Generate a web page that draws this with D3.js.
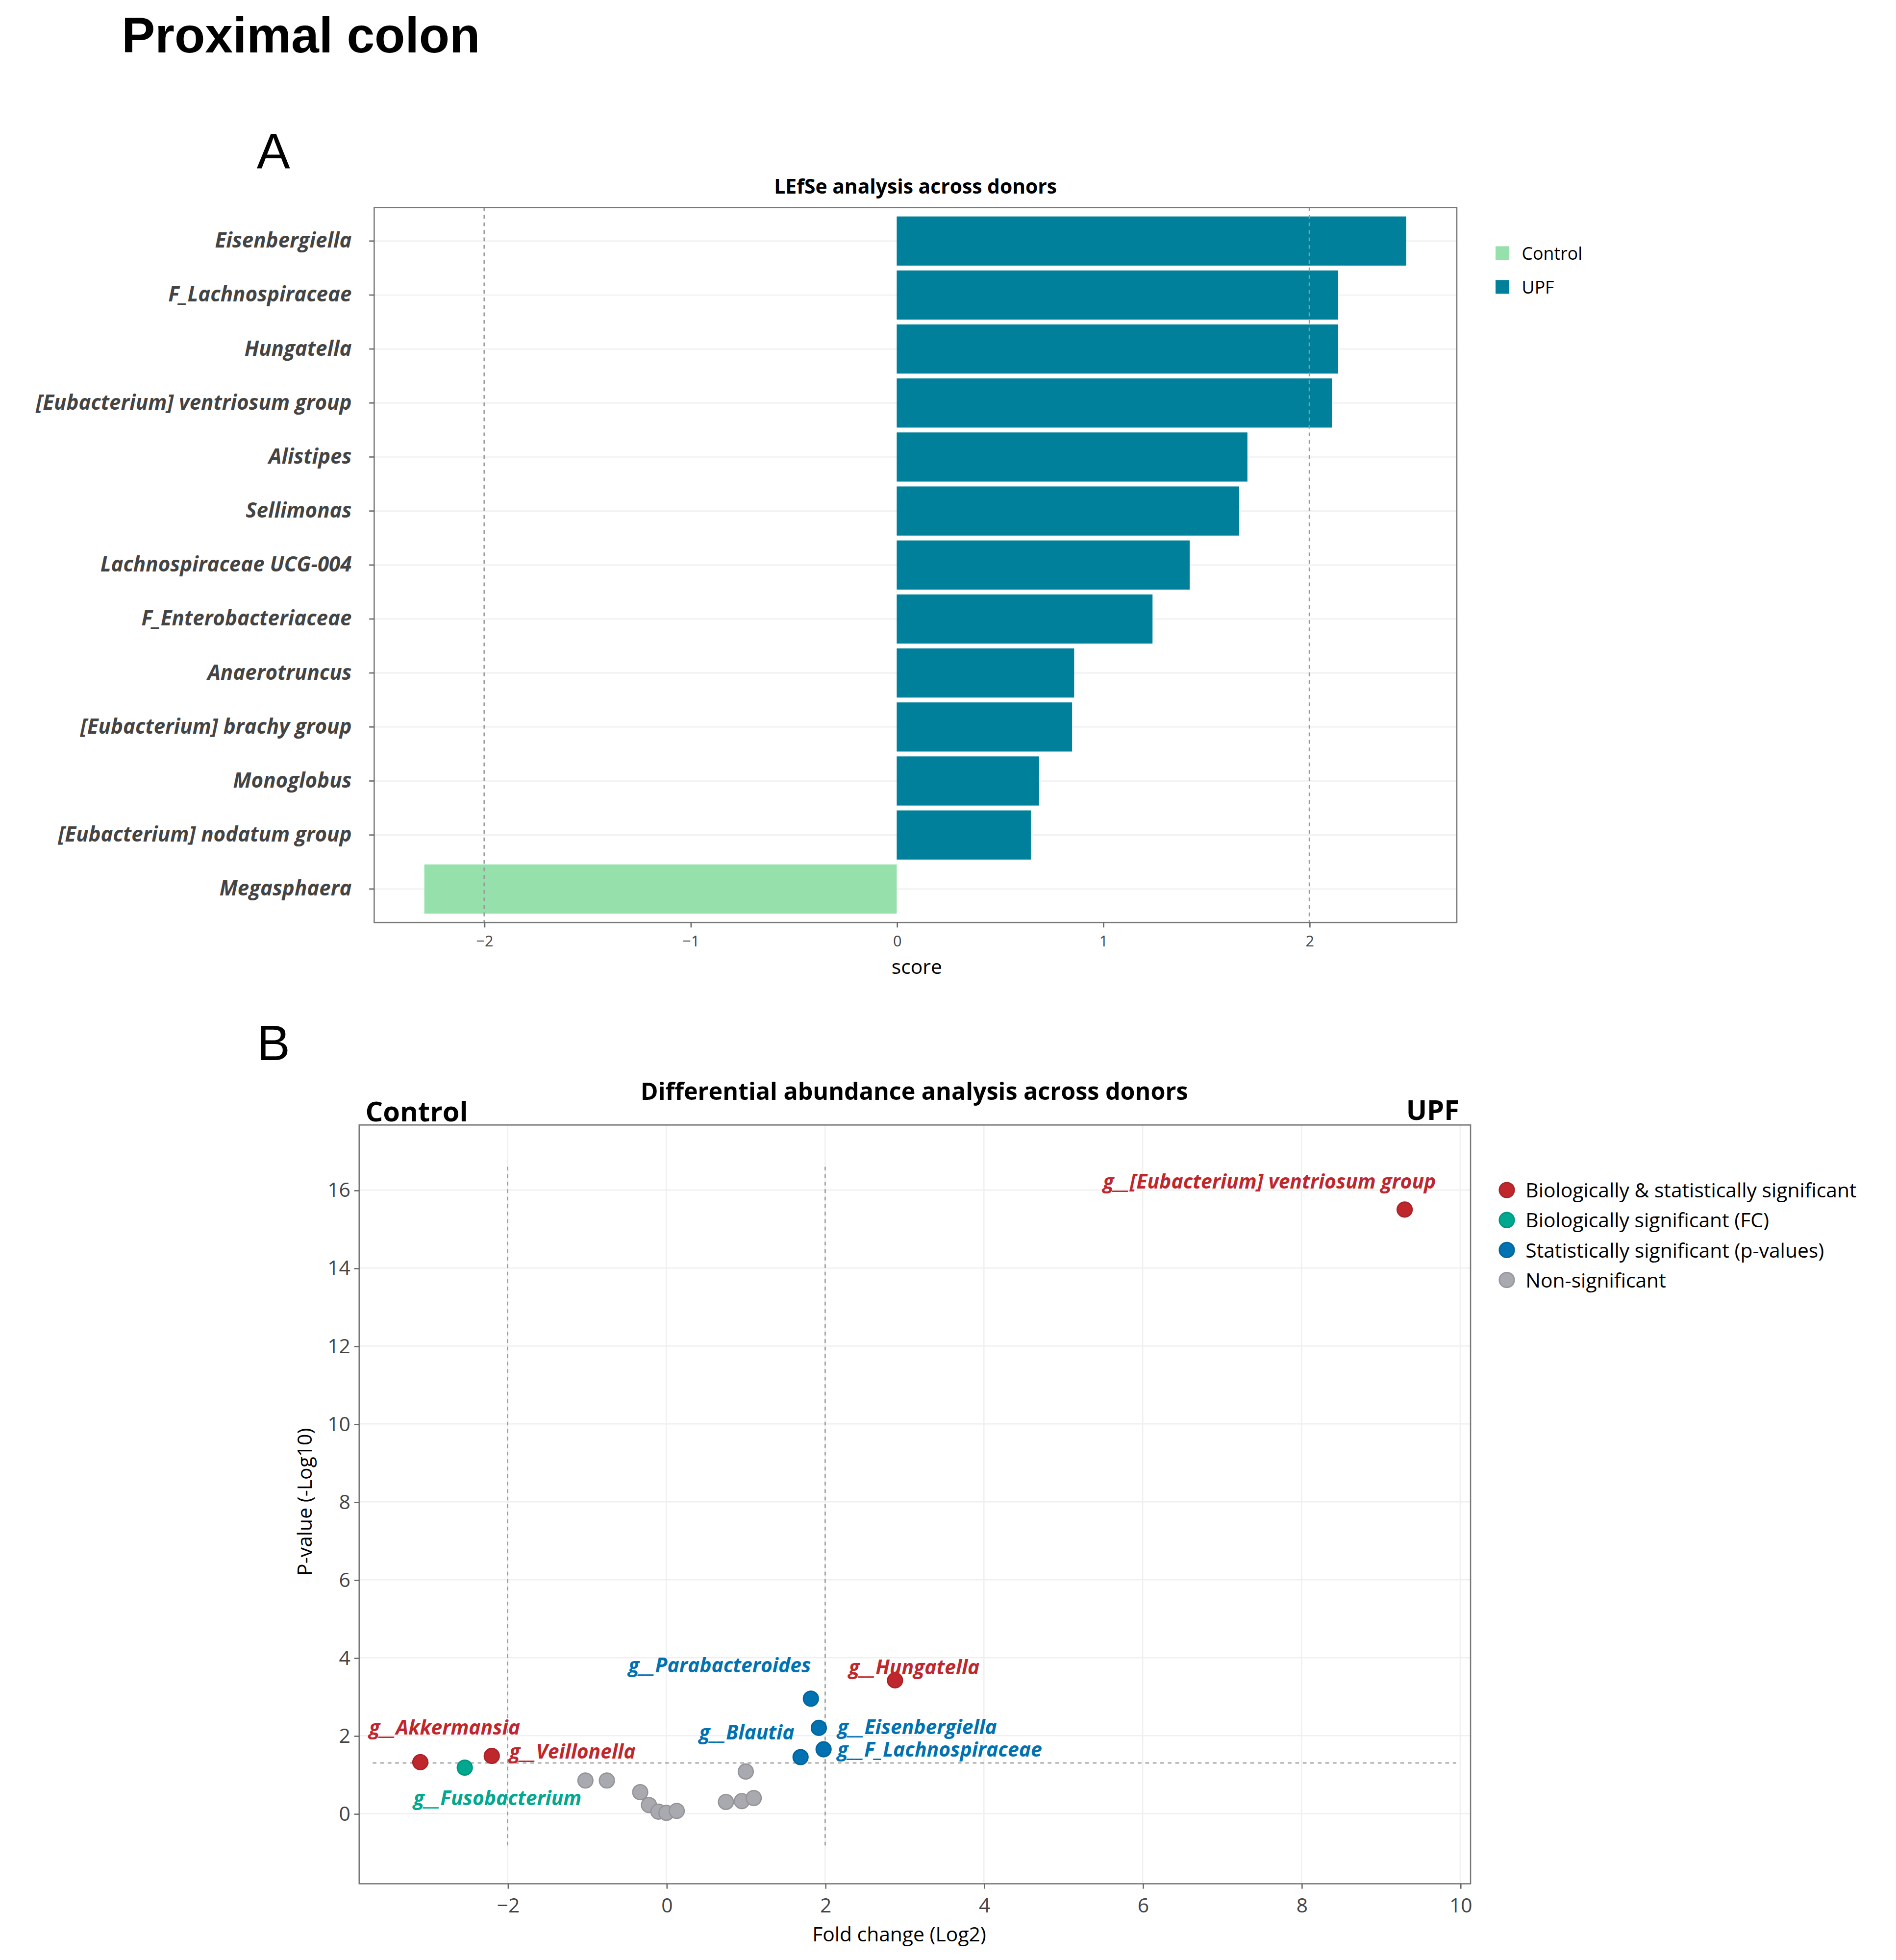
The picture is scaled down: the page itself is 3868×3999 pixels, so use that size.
<!DOCTYPE html>
<html>
<head>
<meta charset="utf-8">
<script src="https://cdn.jsdelivr.net/npm/d3@7"></script>
<style>
  body { margin: 0; background: #fff; }
  text { font-family: "Open Sans", sans-serif; }
</style>
</head>
<body>
<svg id="chart"></svg>
<script>
// ---- data: panel A (LEfSe) ----
var taxa = ['Eisenbergiella', 'F_Lachnospiraceae', 'Hungatella', '[Eubacterium] ventriosum group',
  'Alistipes', 'Sellimonas', 'Lachnospiraceae UCG-004', 'F_Enterobacteriaceae', 'Anaerotruncus',
  '[Eubacterium] brachy group', 'Monoglobus', '[Eubacterium] nodatum group', 'Megasphaera'];
var scores = [2.47, 2.14, 2.14, 2.11, 1.70, 1.66, 1.42, 1.24, 0.86, 0.85, 0.69, 0.65, -2.29];
var groupsA = ['Control', 'UPF'];
var scoreTicks = [-2, -1, 0, 1, 2];

// ---- data: panel B (volcano) ----
var fc   = [9.3, 2.88, -3.1, -2.2, -2.54, 1.82, 1.92, 1.98, 1.69,
            -1.02, -0.75, -0.33, -0.22, -0.1, 0.0, 0.13, 0.75, 0.95, 1.1, 1.0];
var pval = [15.5, 3.42, 1.32, 1.48, 1.18, 2.95, 2.2, 1.65, 1.45,
            0.85, 0.85, 0.55, 0.22, 0.05, 0.02, 0.07, 0.3, 0.32, 0.4, 1.08];
var sig  = [0, 0, 0, 0, 1, 2, 2, 2, 2, 3, 3, 3, 3, 3, 3, 3, 3, 3, 3, 3];
var names = ['g__[Eubacterium] ventriosum group', 'g__Hungatella', 'g__Akkermansia', 'g__Veillonella',
  'g__Fusobacterium', 'g__Parabacteroides', 'g__Eisenbergiella', 'g__F_Lachnospiraceae', 'g__Blautia'];
var sigLabels = ['Biologically & statistically significant', 'Biologically significant (FC)',
  'Statistically significant (p-values)', 'Non-significant'];
var fcTicks = [-2, 0, 2, 4, 6, 8, 10];
var pTicks = [0, 2, 4, 6, 8, 10, 12, 14, 16];

// label offsets (px from point) and anchors
var labelPos = [[25, -17, 'end'], [-37, -5, 'start'], [-41, -22, 'start'], [14, 2, 'start'],
  [-41, 30, 'start'], [0, -21, 'end'], [15, 5, 'start'], [11, 6, 'start'], [-5, -14, 'end']];

var W = 1516, H = 1568;
var svg = d3.select('#chart').attr('width', 3868).attr('height', 3999)
  .attr('viewBox', '0 0 ' + W + ' ' + H);

svg.append('text').attr('x', 97).attr('y', 42).text('Proximal colon')
  .style('font-family', '"Liberation Sans", Arial, sans-serif').style('font-weight', 'bold').style('font-size', '40px');
svg.append('text').attr('x', 205).attr('y', 135).text('A')
  .style('font-family', '"Liberation Sans", Arial, sans-serif').style('font-size', '40px');
svg.append('text').attr('x', 205).attr('y', 848).text('B')
  .style('font-family', '"Liberation Sans", Arial, sans-serif').style('font-size', '40px');

// ================= Panel A =================
var ax = { l: 299, r: 1165, t: 166, b: 738 };
var x1 = d3.scaleLinear().domain([-2.533, 2.715]).range([ax.l, ax.r]);
var y1 = d3.scaleBand().domain(taxa).range([ax.t + 5, ax.b - 5]).paddingInner(0.09).paddingOuter(0.05);
var gA = svg.append('g');

gA.selectAll('.hg').data(taxa).enter().append('line')
  .attr('x1', ax.l).attr('x2', ax.r)
  .attr('y1', function(d) { return y1(d) + y1.bandwidth() / 2; })
  .attr('y2', function(d) { return y1(d) + y1.bandwidth() / 2; })
  .attr('stroke', '#f0f0f0');

gA.selectAll('.bar').data(taxa).enter().append('rect')
  .attr('x', function(d, i) { return x1(Math.min(0, scores[i])); })
  .attr('width', function(d, i) { return Math.abs(x1(scores[i]) - x1(0)); })
  .attr('y', function(d) { return y1(d); })
  .attr('height', y1.bandwidth())
  .attr('fill', function(d, i) { return scores[i] < 0 ? '#96E0AB' : '#00809A'; });

[-2, 2].forEach(function(v) {
  gA.append('line').attr('x1', x1(v)).attr('x2', x1(v)).attr('y1', ax.t).attr('y2', ax.b)
    .attr('stroke', '#999').attr('stroke-dasharray', '3,3').attr('stroke-width', 1);
});
gA.append('rect').attr('x', ax.l).attr('y', ax.t).attr('width', ax.r - ax.l).attr('height', ax.b - ax.t)
  .attr('fill', 'none').attr('stroke', '#777');

var xAxA = gA.append('g').attr('transform', 'translate(0,' + ax.b + ')')
  .call(d3.axisBottom(x1).tickValues(scoreTicks).tickSize(4).tickFormat(d3.format('d')));
xAxA.select('.domain').remove();
xAxA.selectAll('line').attr('stroke', '#666');
xAxA.selectAll('text').style('font-size', '12px').attr('fill', '#444').attr('dy', '1em');

var yAxA = gA.append('g').attr('transform', 'translate(' + ax.l + ',0)')
  .call(d3.axisLeft(y1).tickSize(4).tickPadding(14));
yAxA.select('.domain').remove();
yAxA.selectAll('line').attr('stroke', '#666');
yAxA.selectAll('text').style('font-size', '16.5px').style('font-style', 'italic')
  .style('font-weight', 'bold').attr('fill', '#444');

gA.append('text').attr('x', (ax.l + ax.r) / 2).attr('y', 155).attr('text-anchor', 'middle')
  .text('LEfSe analysis across donors').style('font-size', '16px').style('font-weight', 'bold');
gA.append('text').attr('x', 733).attr('y', 779).attr('text-anchor', 'middle')
  .text('score').style('font-size', '16px');

var legA = gA.selectAll('.legA').data(groupsA).enter().append('g')
  .attr('transform', function(d, i) { return 'translate(1196,' + (203 + i * 27) + ')'; });
legA.append('rect').attr('x', 0).attr('y', -6).attr('width', 11).attr('height', 11)
  .attr('fill', function(d, i) { return i === 0 ? '#96E0AB' : '#00809A'; });
legA.append('text').attr('x', 21).attr('y', 5).text(function(d) { return d; }).style('font-size', '14px');

// ================= Panel B =================
var bx = { l: 287, r: 1176, t: 900, b: 1507 };
var x2 = d3.scaleLinear().domain([-3.87, 10.13]).range([bx.l, bx.r]);
var y2 = d3.scaleLinear().domain([-1.8, 17.67]).range([bx.b, bx.t]);
var sigColors = ['#C0272D', '#00A88F', '#0072B2', '#A9A9B0'];
var gB = svg.append('g');

fcTicks.forEach(function(v) {
  gB.append('line').attr('x1', x2(v)).attr('x2', x2(v)).attr('y1', bx.t).attr('y2', bx.b).attr('stroke', '#f0f0f0');
});
pTicks.forEach(function(v) {
  gB.append('line').attr('x1', bx.l).attr('x2', bx.r).attr('y1', y2(v)).attr('y2', y2(v)).attr('stroke', '#f0f0f0');
});
[-2, 2].forEach(function(v) {
  gB.append('line').attr('x1', x2(v)).attr('x2', x2(v)).attr('y1', y2(16.6)).attr('y2', y2(-0.85))
    .attr('stroke', '#999').attr('stroke-dasharray', '3,3');
});
gB.append('line').attr('x1', x2(-3.7)).attr('x2', x2(9.95)).attr('y1', y2(1.3)).attr('y2', y2(1.3))
  .attr('stroke', '#999').attr('stroke-dasharray', '3,3');
gB.append('rect').attr('x', bx.l).attr('y', bx.t).attr('width', bx.r - bx.l).attr('height', bx.b - bx.t)
  .attr('fill', 'none').attr('stroke', '#777');

gB.selectAll('.pt').data(fc).enter().append('circle')
  .attr('cx', function(d) { return x2(d); })
  .attr('cy', function(d, i) { return y2(pval[i]); })
  .attr('r', 6)
  .attr('fill', function(d, i) { return sigColors[sig[i]]; })
  .attr('stroke', function(d, i) { return d3.color(sigColors[sig[i]]).darker(0.4); })
  .attr('stroke-width', 1);

gB.selectAll('.lab').data(names).enter().append('text')
  .attr('x', function(d, i) { return x2(fc[i]) + labelPos[i][0]; })
  .attr('y', function(d, i) { return y2(pval[i]) + labelPos[i][1]; })
  .attr('text-anchor', function(d, i) { return labelPos[i][2]; })
  .attr('fill', function(d, i) { return sigColors[sig[i]]; })
  .style('font-size', '16px').style('font-weight', 'bold').style('font-style', 'italic')
  .text(function(d) { return d; });

var xAxB = gB.append('g').attr('transform', 'translate(0,' + bx.b + ')')
  .call(d3.axisBottom(x2).tickValues(fcTicks).tickSize(4).tickFormat(d3.format('d')));
xAxB.select('.domain').remove();
xAxB.selectAll('line').attr('stroke', '#666');
xAxB.selectAll('text').style('font-size', '16px').attr('fill', '#444').attr('dy', '1em');

var yAxB = gB.append('g').attr('transform', 'translate(' + bx.l + ',0)')
  .call(d3.axisLeft(y2).tickValues(pTicks).tickSize(4).tickFormat(d3.format('d')));
yAxB.select('.domain').remove();
yAxB.selectAll('line').attr('stroke', '#666');
yAxB.selectAll('text').style('font-size', '16px').attr('fill', '#444');

gB.append('text').attr('x', 731).attr('y', 880).attr('text-anchor', 'middle')
  .text('Differential abundance analysis across donors').style('font-size', '19px').style('font-weight', 'bold');
gB.append('text').attr('x', 292).attr('y', 897).text('Control').style('font-size', '22px').style('font-weight', 'bold');
gB.append('text').attr('x', 1167).attr('y', 896).attr('text-anchor', 'end')
  .text('UPF').style('font-size', '22px').style('font-weight', 'bold');
gB.append('text').attr('x', 719).attr('y', 1553).attr('text-anchor', 'middle')
  .text('Fold change (Log2)').style('font-size', '16px');
gB.append('text').attr('transform', 'translate(249,' + y2(8) + ') rotate(-90)').attr('text-anchor', 'middle')
  .text('P-value (-Log10)').style('font-size', '16px');

var legB = gB.selectAll('.legB').data(sigLabels).enter().append('g')
  .attr('transform', function(d, i) { return 'translate(1205,' + (952 + i * 24) + ')'; });
legB.append('circle').attr('r', 6).attr('fill', function(d, i) { return sigColors[i]; })
  .attr('stroke', function(d, i) { return d3.color(sigColors[i]).darker(0.4); });
legB.append('text').attr('x', 15).attr('y', 6).text(function(d) { return d; }).style('font-size', '16px');
</script>
</body>
</html>
